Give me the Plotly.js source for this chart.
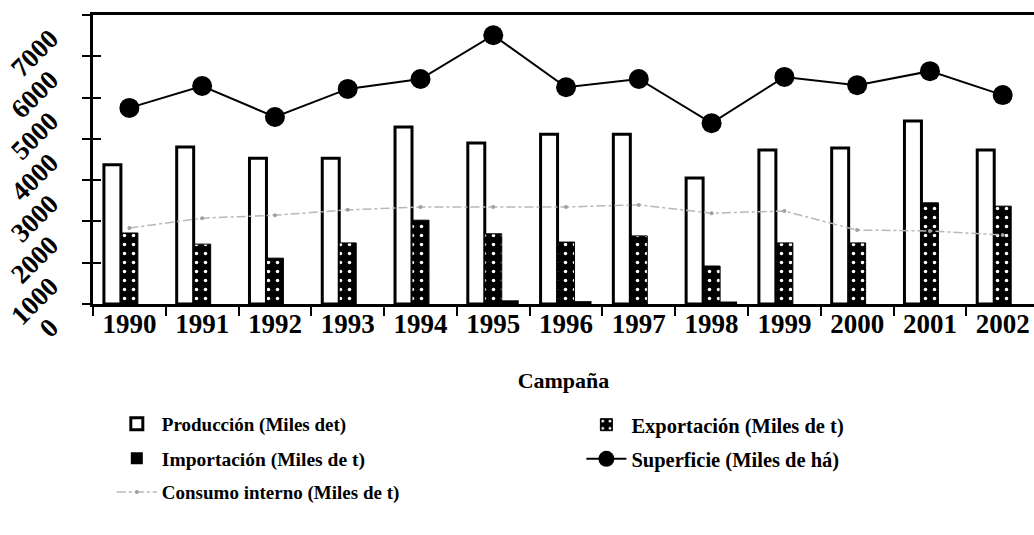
<!DOCTYPE html>
<html>
<head>
<meta charset="utf-8">
<script src="https://cdn.plot.ly/plotly-3.0.1.min.js"></script>
<style>html,body{margin:0;padding:0;background:#fff}#chart{width:1034px;height:535px}</style>
</head>
<body>
<div id="chart"></div>
<script>
var campanas = ['1990','1991','1992','1993','1994','1995','1996','1997','1998','1999','2000','2001','2002'];
var produccion = [3370, 3800, 3530, 3530, 4290, 3900, 4110, 4110, 3050, 3730, 3780, 4430, 3730];
var exportacion = [1720, 1450, 1110, 1480, 2030, 1700, 1500, 1650, 920, 1480, 1480, 2450, 2370];
var importacion = [0, 0, 0, 0, 0, 90, 70, 0, 60, 0, 0, 0, 0];
var superficie = [4750, 5280, 4530, 5210, 5450, 6510, 5250, 5450, 4380, 5500, 5300, 5640, 5060];
var consumo = [1840, 2080, 2150, 2280, 2350, 2350, 2350, 2400, 2200, 2250, 1790, 1770, 1670];
var yTicks = [0, 1000, 2000, 3000, 4000, 5000, 6000, 7000];

var serif = 'Liberation Serif, DejaVu Serif, serif';
var traces = [
  {type:'bar', name:'Producción (Miles det)', x:campanas, y:produccion,
   marker:{color:'#ffffff', line:{color:'#000', width:3}}, legend:'legend'},
  {type:'bar', name:'Exportación (Miles de t)', x:campanas, y:exportacion,
   marker:{color:'#000', line:{color:'#000', width:1},
     pattern:{shape:'.', fgcolor:'#ffffff', bgcolor:'#000', size:9, solidity:0.12}}, legend:'legend2'},
  {type:'bar', name:'Importación (Miles de t)', x:campanas, y:importacion,
   marker:{color:'#000', line:{color:'#000', width:0}}, legend:'legend3'},
  {type:'scatter', mode:'lines+markers', name:'Superficie (Miles de há)', x:campanas, y:superficie,
   line:{color:'#000', width:2}, marker:{color:'#000', size:20}, legend:'legend4'},
  {type:'scatter', mode:'lines+markers', name:'Consumo interno (Miles de t)', x:campanas, y:consumo,
   line:{color:'#b8b8b8', width:1.5, dash:'dashdot'}, marker:{color:'#a0a0a0', size:4}, legend:'legend5'}
];

function lg(x, y, size){
  return {orientation:'h', xanchor:'left', yanchor:'top', x:x, y:y,
    font:{family:serif, size:size, color:'#000', weight:'bold'}, bgcolor:'rgba(0,0,0,0)', itemwidth:40};
}

var layout = {
  width:1034, height:535,
  margin:{l:93, r:0, t:15, b:231},
  paper_bgcolor:'#fff', plot_bgcolor:'#fff',
  barmode:'group', bargap:0.3, bargroupgap:0,
  showlegend:true,
  xaxis:{type:'category', range:[-0.5, 12.43], showline:true, linecolor:'#000', linewidth:3, mirror:true,
    ticks:'outside', tickson:'boundaries', ticklen:9, tickwidth:2, tickcolor:'#000',
    showgrid:false, zeroline:false, ticklabelstandoff:-6,
    tickfont:{family:serif, size:27, color:'#000', weight:'bold'},
    title:{text:'Campaña', font:{family:serif, size:22, color:'#000', weight:'bold'}, standoff:35}},
  yaxis:{range:[0,7000], tickvals:yTicks, ticktext:yTicks.map(String), tickangle:-45,
    showline:true, linecolor:'#000', linewidth:3, mirror:false,
    ticks:'outside', ticklen:8, tickwidth:2, tickcolor:'#000',
    showgrid:false, zeroline:false, ticklabelshift:20, ticklabelstandoff:26,
    tickfont:{family:serif, size:27, color:'#000', weight:'bold'}},
  xaxis2:{type:'category', overlaying:'x', matches:'x', anchor:'y', side:'bottom', showline:false,
    ticks:'', showticklabels:false, showgrid:false, zeroline:false},
  yaxis2:{overlaying:'y', matches:'y', anchor:'x', side:'left', showline:false,
    ticks:'inside', ticklen:8, tickwidth:2, tickcolor:'#000', tickvals:yTicks, showticklabels:false,
    showgrid:false, zeroline:false},
  legend:lg(0.02, -0.349, 19),
  legend2:lg(0.519, -0.349, 20.5),
  legend3:lg(0.02, -0.467, 19.5),
  legend4:lg(0.519, -0.467, 20.5),
  legend5:lg(0.02, -0.585, 19)
};

traces.push({type:'scatter', x:[campanas[0]], y:[0], xaxis:'x2', yaxis:'y2', mode:'markers',
  marker:{opacity:0}, showlegend:false, hoverinfo:'skip'});

Plotly.newPlot('chart', traces, layout, {staticPlot:true});
</script>
</body>
</html>
